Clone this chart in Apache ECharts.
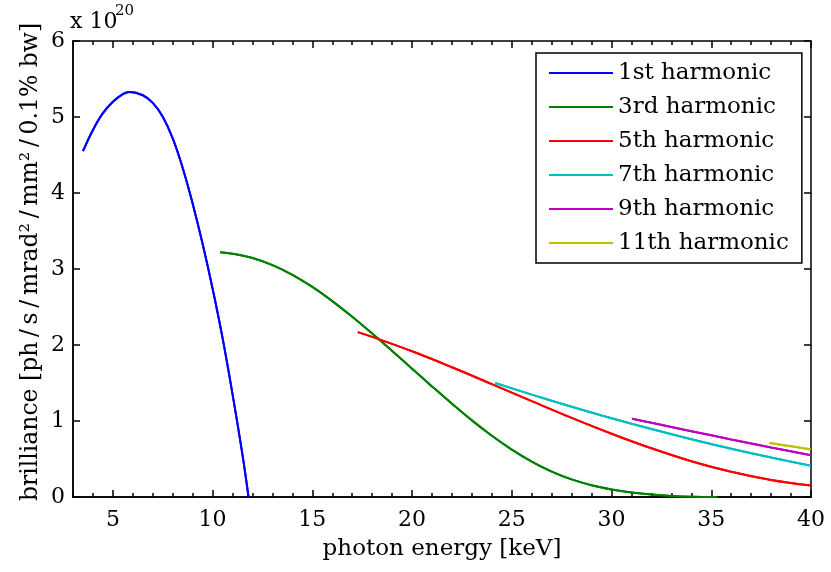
<!DOCTYPE html>
<html>
<head>
<meta charset="utf-8">
<script src="https://cdn.jsdelivr.net/npm/echarts@6/dist/echarts.min.js"></script>
<style>html,body{margin:0;padding:0;background:#fff}
#wrap{position:relative;width:831px;height:572px}
#c,#t{position:absolute;left:0;top:0;width:831px;height:572px}
#t{pointer-events:none}</style>
</head>
<body>
<div id="wrap"><div id="c"></div><div id="t"></div></div>
<script>
const seriesNames = ['1st harmonic','3rd harmonic','5th harmonic','7th harmonic','9th harmonic','11th harmonic'];
const seriesColors = ['#0000ff','#008000','#ff0000','#00bfbf','#bf00bf','#bfbf00'];
const xTickLabels = [5,10,15,20,25,30,35,40];

const h1X = [3.5,4.0,4.5,5.0,5.5,5.83,6.5,7.0,7.5,8.0,8.5,9.0,9.5,10.0,10.5,11.0,11.5,11.8];
const h1Y = [4.55,4.83,5.05,5.20,5.30,5.33,5.286,5.186,5.004,4.72,4.33,3.86,3.33,2.74,2.09,1.35,0.55,0.0];

const h3X = [10.38,11,12,13,14,15,16,17,18,19,20,21,22,23,24,25,26,27,28,29,30,31,32,33,34,35.3];
const h3Y = [3.22,3.201,3.144,3.051,2.924,2.764,2.577,2.371,2.150,1.921,1.688,1.455,1.227,1.008,0.806,0.624,0.467,0.335,0.232,0.155,0.10,0.06,0.032,0.014,0.004,0.0];

const h5X = [17.28,18,20,22,24,26,28,30,32,34,36,38,40];
const h5Y = [2.17,2.107,1.917,1.707,1.485,1.261,1.041,0.833,0.641,0.471,0.331,0.223,0.150];

const h7X = [24.17,26,28,30,32,34,36,38,40];
const h7Y = [1.50,1.347,1.188,1.037,0.895,0.761,0.636,0.52,0.412];

const h9X = [31.03,32,34,36,38,40];
const h9Y = [1.03,0.977,0.866,0.757,0.651,0.55];

const h11X = [37.92,39,40];
const h11Y = [0.71,0.667,0.625];

const allX = [h1X,h3X,h5X,h7X,h9X,h11X];
const allY = [h1Y,h3Y,h5Y,h7Y,h9Y,h11Y];

const FONT = 'DejaVu Serif';
const GRID = {left:73, right:20, top:41, bottom:75};

function makeSeries(named) {
  return seriesNames.map((n,i)=>{
    const s = {
      type:'line', xAxisIndex:0, yAxisIndex:0,
      data: allX[i].map((x,j)=>[x, allY[i][j]]),
      showSymbol:false, smooth:0.4,
      lineStyle:{color:seriesColors[i], width:2},
      itemStyle:{color:seriesColors[i]}
    };
    if (named) s.name = n;
    return s;
  });
}

/* ---------- base chart: labels, names, legend ---------- */
const chart = echarts.init(document.getElementById('c'));
chart.setOption({
  animation:false,
  backgroundColor:'#fff',
  grid:GRID,
  xAxis:[{type:'value', position:'bottom', min:3, max:40,
    axisLine:{show:true, lineStyle:{color:'#000', width:1.5}},
    axisTick:{show:false},
    axisLabel:{customValues:xTickLabels, fontFamily:FONT, fontSize:22, color:'#000', margin:12},
    splitLine:{show:false},
    name:'photon energy [keV]', nameLocation:'middle', nameGap:41,
    nameTextStyle:{fontFamily:FONT, fontSize:23, color:'#000'}}],
  yAxis:[{type:'value', position:'left', min:0, max:6, interval:1,
    axisLine:{show:true, lineStyle:{color:'#000', width:1.5}},
    axisTick:{show:false},
    axisLabel:{fontFamily:FONT, fontSize:22, color:'#000', margin:8},
    splitLine:{show:false}}],
  legend:{
    orient:'vertical', left:536, top:53,
    data:seriesNames,
    icon:'rect', itemWidth:64, itemHeight:2, itemGap:8,
    padding:[7,13,7,13],
    borderColor:'#000', borderWidth:1.5, backgroundColor:'#fff',
    textStyle:{fontFamily:FONT, fontSize:23, color:'#000', lineHeight:26},
    selectedMode:false
  },
  graphic:[
    {type:'text', left:70, top:11, style:{text:'x 10', font:'22px "DejaVu Serif"', fill:'#000'}},
    {type:'text', left:115, top:4, style:{text:'20', font:'15px "DejaVu Serif"', fill:'#000'}},
    {type:'text', x:31, y:262, rotation:Math.PI/2,
      style:{text:'brilliance [ph\u2009/\u2009s\u2009/\u2009mrad\u00b2\u2009/\u2009mm\u00b2\u2009/\u20090.1% bw]',
        font:'23.5px "DejaVu Serif"', fill:'#000', align:'center', verticalAlign:'middle'}}
  ],
  series:makeSeries(true)
});

/* ---------- overlay: curves + box axes with inward ticks ---------- */
function xAx(pos, major, showLabel) {
  const a = {
    type:'value', position:pos, min:3, max:40,
    axisLine:{show:major, onZero:false, lineStyle:{color:'#000', width:1.5}},
    axisTick:{show:true, inside:true, length: major?7:4, lineStyle:{color:'#000', width:1.5}},
    axisLabel:{show:showLabel, color:'rgba(0,0,0,0)'},
    splitLine:{show:false}
  };
  if (major) { a.axisTick.customValues = xTickLabels; a.axisLabel.customValues = xTickLabels; }
  else a.interval = 1;
  return a;
}
function yAx(pos, showLabel) {
  return {
    type:'value', position:pos, min:0, max:6, interval:1,
    axisLine:{show:true, onZero:false, lineStyle:{color:'#000', width:1.5}},
    axisTick:{show:true, inside:true, length:7, lineStyle:{color:'#000', width:1.5}},
    axisLabel:{show:showLabel, color:'rgba(0,0,0,0)'},
    splitLine:{show:false}
  };
}
const ticks = echarts.init(document.getElementById('t'));
ticks.setOption({
  animation:false,
  grid:GRID,
  xAxis:[xAx('bottom', true, true), xAx('bottom', false, false), xAx('top', true, false), xAx('top', false, false)],
  yAxis:[yAx('left', true), yAx('right', false)],
  series:makeSeries(false)
});
</script>
</body>
</html>
